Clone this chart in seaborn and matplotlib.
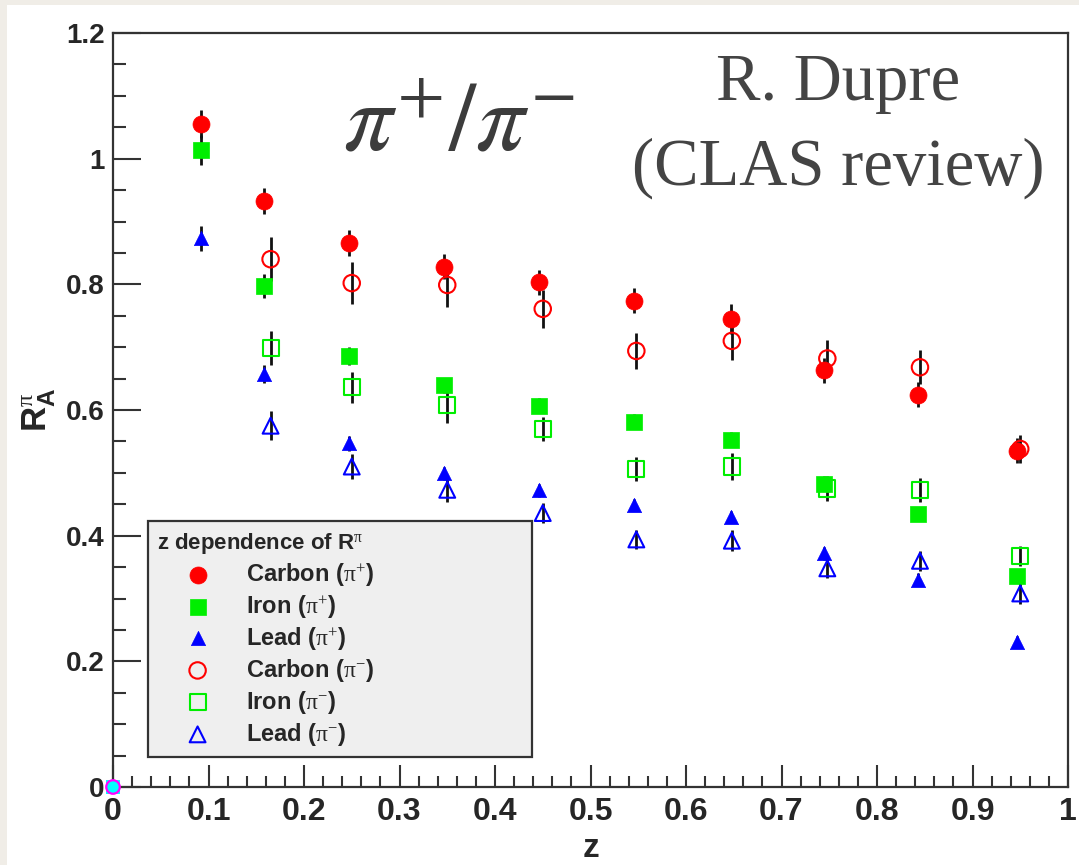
import numpy as np
import pandas as pd
import matplotlib
matplotlib.use("Agg")
import matplotlib.pyplot as plt
from matplotlib.patches import Rectangle
from matplotlib.ticker import FixedLocator, FixedFormatter, MultipleLocator
import seaborn as sns

# ---- data: nuclear multiplicity ratio R_A^pi versus z ----
z_plus = [0.092, 0.158, 0.247, 0.347, 0.446, 0.546, 0.647, 0.745, 0.843, 0.947]
z_minus = [0.165, 0.250, 0.350, 0.450, 0.548, 0.648, 0.748, 0.845, 0.950]

carbon_plus = [1.055, 0.933, 0.866, 0.828, 0.803, 0.774, 0.745, 0.663, 0.624, 0.535]
carbon_plus_err = [0.022, 0.021, 0.021, 0.020, 0.020, 0.020, 0.024, 0.020, 0.020, 0.020]
iron_plus = [1.014, 0.798, 0.686, 0.639, 0.607, 0.581, 0.553, 0.483, 0.434, 0.336]
iron_plus_err = [0.024, 0.019, 0.015, 0.012, 0.012, 0.012, 0.012, 0.012, 0.010, 0.010]
lead_plus = [0.873, 0.657, 0.547, 0.499, 0.472, 0.449, 0.430, 0.372, 0.330, 0.231]
lead_plus_err = [0.020, 0.014, 0.012, 0.010, 0.010, 0.010, 0.010, 0.010, 0.010, 0.010]

carbon_minus = [0.840, 0.802, 0.799, 0.761, 0.694, 0.710, 0.682, 0.668, 0.538]
carbon_minus_err = [0.035, 0.034, 0.035, 0.030, 0.029, 0.030, 0.029, 0.027, 0.023]
iron_minus = [0.698, 0.636, 0.608, 0.570, 0.506, 0.510, 0.475, 0.472, 0.368]
iron_minus_err = [0.027, 0.025, 0.028, 0.019, 0.019, 0.021, 0.020, 0.019, 0.016]
lead_minus = [0.575, 0.510, 0.473, 0.436, 0.394, 0.392, 0.348, 0.360, 0.308]
lead_minus_err = [0.023, 0.020, 0.020, 0.016, 0.015, 0.017, 0.016, 0.016, 0.016]

origin_z = [0.0]
origin_r = [0.0]

x_ticks = [0.0, 0.1, 0.2, 0.3, 0.4, 0.5, 0.6, 0.7, 0.8, 0.9, 1.0]
x_tick_labels = ["0", "0.1", "0.2", "0.3", "0.4", "0.5", "0.6", "0.7", "0.8", "0.9", "1"]
y_ticks = [0.0, 0.2, 0.4, 0.6, 0.8, 1.0, 1.2]
y_tick_labels = ["0", "0.2", "0.4", "0.6", "0.8", "1", "1.2"]

# ---- style ----
sns.set_style("white")
plt.rcParams["font.family"] = ["Liberation Sans", "DejaVu Sans"]
plt.rcParams["mathtext.fontset"] = "custom"
plt.rcParams["mathtext.rm"] = "Liberation Serif"
plt.rcParams["mathtext.it"] = "Liberation Serif:italic"
plt.rcParams["mathtext.bf"] = "Liberation Sans:bold"

FRAME = "#333333"
RED, GREEN, BLUE = "#ff0000", "#00ee00", "#0000ff"

fig = plt.figure(figsize=(10.79, 8.65), dpi=100, facecolor="#f0ede7")
fig.patches.append(Rectangle((7 / 1079, 0), 1 - 7 / 1079, 1 - 5 / 865,
                             transform=fig.transFigure, facecolor="white",
                             edgecolor="none", zorder=-10))
ax = fig.add_axes([113 / 1079, 1 - 787 / 865, 955 / 1079, 754 / 865])
ax.set_facecolor("white")

series = [
    ("Carbon ($\\mathrm{\\pi}^{+}$)", z_plus, carbon_plus, carbon_plus_err, "o", RED, True, 150),
    ("Iron ($\\mathrm{\\pi}^{+}$)", z_plus, iron_plus, iron_plus_err, "s", GREEN, True, 135),
    ("Lead ($\\mathrm{\\pi}^{+}$)", z_plus, lead_plus, lead_plus_err, "^", BLUE, True, 105),
    ("Carbon ($\\mathrm{\\pi}^{-}$)", z_minus, carbon_minus, carbon_minus_err, "o", RED, False, 140),
    ("Iron ($\\mathrm{\\pi}^{-}$)", z_minus, iron_minus, iron_minus_err, "s", GREEN, False, 135),
    ("Lead ($\\mathrm{\\pi}^{-}$)", z_minus, lead_minus, lead_minus_err, "^", BLUE, False, 130),
]

for label, zz, rr, ee, mk, col, filled, size in series:
    df = pd.DataFrame({"z": zz, "R": rr})
    ax.errorbar(zz, rr, yerr=ee, fmt="none", ecolor="#111111",
                elinewidth=2.0, capsize=0, zorder=2)
    if filled:
        sns.scatterplot(data=df, x="z", y="R", ax=ax, marker=mk, s=size,
                        facecolor=col, edgecolor=col, linewidth=0.5,
                        label=label, zorder=3)
    else:
        sns.scatterplot(data=df, x="z", y="R", ax=ax, marker=mk, s=size,
                        facecolor="none", edgecolor=col, linewidth=1.5,
                        label=label, zorder=3)

# empty marker sitting at the origin
sns.scatterplot(x=origin_z, y=origin_r, ax=ax, marker="s", s=110,
                facecolor="#00ffff", edgecolor="#00ffff", linewidth=0,
                zorder=4, clip_on=False, legend=False)
sns.scatterplot(x=origin_z, y=origin_r, ax=ax, marker="o", s=95,
                facecolor="none", edgecolor="#ff00ff", linewidth=1.6,
                zorder=5, clip_on=False, legend=False)

# ---- axes ----
ax.set_xlim(0, 1)
ax.set_ylim(0, 1.2)
ax.xaxis.set_major_locator(FixedLocator(x_ticks))
ax.xaxis.set_major_formatter(FixedFormatter(x_tick_labels))
ax.yaxis.set_major_locator(FixedLocator(y_ticks))
ax.yaxis.set_major_formatter(FixedFormatter(y_tick_labels))
ax.xaxis.set_minor_locator(MultipleLocator(0.02))
ax.yaxis.set_minor_locator(MultipleLocator(0.05))

ax.tick_params(axis="both", which="both", direction="in", color=FRAME,
               width=1.5, top=False, right=False, bottom=True, left=True)
ax.tick_params(axis="y", which="major", length=20, pad=6)
ax.tick_params(axis="y", which="minor", length=9.5)
ax.tick_params(axis="x", which="major", length=16, pad=7)
ax.tick_params(axis="x", which="minor", length=8)

for lab in ax.get_yticklabels():
    lab.set_fontfamily("Liberation Sans")
    lab.set_fontweight("bold")
    lab.set_fontsize(20)
for lab in ax.get_xticklabels():
    lab.set_fontfamily("Liberation Sans")
    lab.set_fontweight("bold")
    lab.set_fontsize(23)

for sp in ax.spines.values():
    sp.set_color(FRAME)
    sp.set_linewidth(1.6)
    sp.set_visible(True)

ax.set_xlabel("z", fontsize=24, fontweight="bold")
ax.xaxis.set_label_coords(0.5, -0.061)
ax.set_ylabel("$\\mathbf{R}_{\\mathbf{A}}^{\\mathrm{\\pi}}$", fontsize=25)
ax.yaxis.set_label_coords(-0.058, 0.5)

# ---- legend ----
handles, labels = ax.get_legend_handles_labels()
leg = ax.legend(handles, labels,
                title="z dependence of R$^{\\mathrm{\\pi}}$",
                loc="lower left",
                bbox_to_anchor=(35 / 955, 30 / 754, 384 / 955, 0.3),
                mode="expand", borderaxespad=0, alignment="left",
                frameon=True, fancybox=False, framealpha=1,
                facecolor="#efefef", edgecolor=FRAME,
                prop={"family": "Liberation Sans", "weight": "bold", "size": 17},
                title_fontproperties={"family": "Liberation Sans", "weight": "bold", "size": 16},
                handlelength=3.4, handletextpad=0.35, labelspacing=0.21,
                borderpad=0.4, scatterpoints=1)
leg.get_frame().set_linewidth(1.6)
leg.set_zorder(6)

# ---- annotations ----
fig.text(459 / 1079, 1 - 125 / 865, "$\\pi^{+}/\\pi^{-}$", fontsize=70,
         color="#3c3c3c", ha="center", va="center", math_fontfamily="stix")
fig.text(838 / 1079, 1 - 83 / 865, "R. Dupre", fontsize=48,
         fontfamily="Liberation Serif", color="#444444", ha="center", va="center")
fig.text(838 / 1079, 1 - 168 / 865, "(CLAS review)", fontsize=48,
         fontfamily="Liberation Serif", color="#444444", ha="center", va="center")

fig.savefig("out.png", dpi=100, facecolor=fig.get_facecolor())
